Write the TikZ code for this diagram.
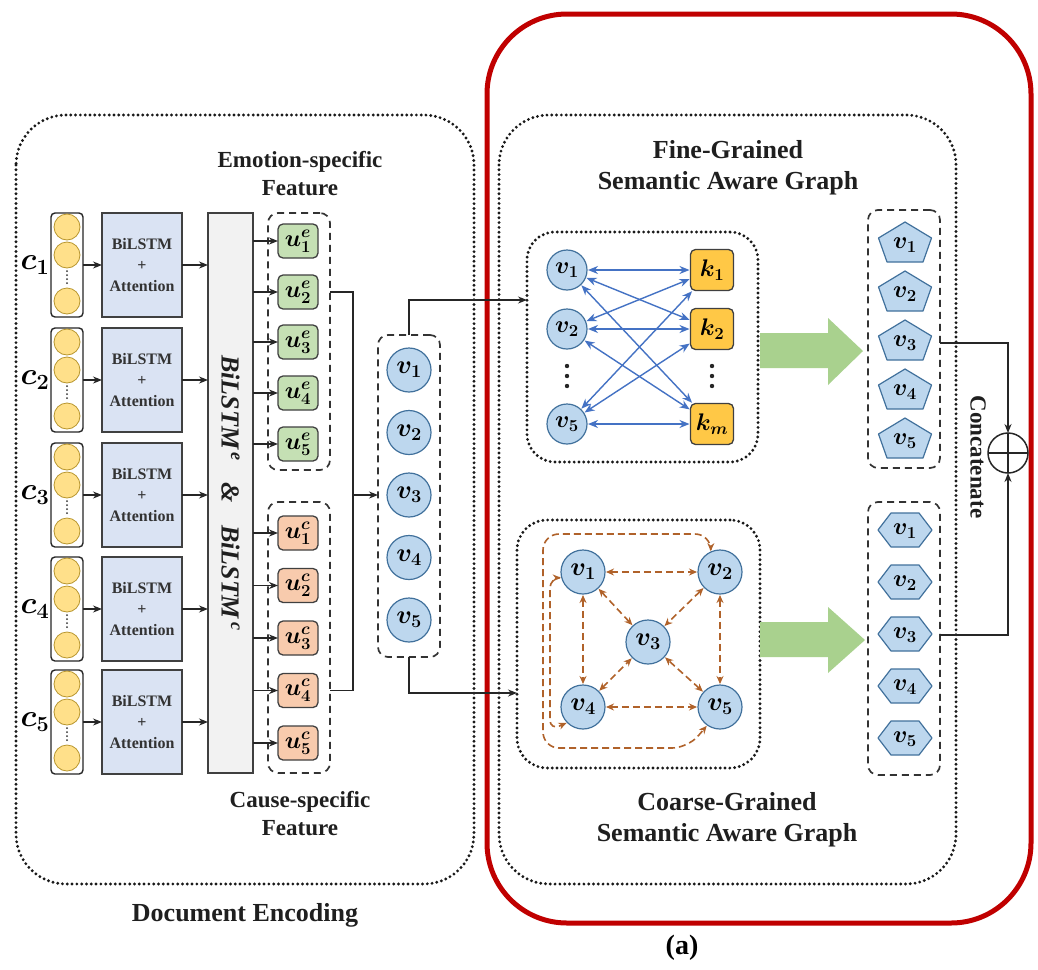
\RequirePackage{fix-cm}
\documentclass[tikz,border=0pt]{standalone}
\usepackage{amsmath}
\usepackage{bm}
\usepackage{fontspec}
\setmainfont{Liberation Serif}
\usetikzlibrary{arrows.meta,calc}
\definecolor{redbox}{HTML}{C00000}
\definecolor{lblue}{HTML}{DAE3F3}
\definecolor{vfill}{HTML}{BDD7EE}
\definecolor{vdraw}{HTML}{41719C}
\definecolor{yfill}{HTML}{FFE08A}
\definecolor{ydraw}{HTML}{B8962E}
\definecolor{gfill}{HTML}{C5E0B4}
\definecolor{ofill}{HTML}{F8CBAD}
\definecolor{kfill}{HTML}{FFC846}
\definecolor{bedgecol}{HTML}{4472C4}
\definecolor{cedgecol}{HTML}{B0622A}
\definecolor{garrow}{HTML}{A9D18E}
\definecolor{boxgray}{HTML}{F2F2F2}
\begin{document}
\begin{tikzpicture}[x=1pt,y=-1pt,
  every node/.style={inner sep=0pt,outer sep=0pt},
  dotbox/.style={draw=black!90,line width=3.2pt,dash pattern=on 0pt off 4.8pt,line cap=round},
  dashbox/.style={draw=black!80,line width=1.7pt,dash pattern=on 7pt off 5pt,rounded corners=10pt},
  arr/.style={draw=black!85,line width=1.3pt,-{Stealth[length=9pt,width=7pt]}},
  plain/.style={draw=black!85,line width=1.3pt},
  ccol/.style={draw=black!85,line width=1.4pt,rounded corners=4pt,fill=white,minimum width=32pt,minimum height=104pt},
  ycirc/.style={circle,draw=ydraw,fill=yfill,line width=0.8pt,minimum size=26pt},
  dotline/.style={draw=black!80,line width=2pt,dash pattern=on 0pt off 4pt,line cap=round,shorten <=3pt,shorten >=3pt},
  clab/.style={font=\fontsize{31}{34}\selectfont},
  lstm/.style={draw=black!75,fill=lblue,line width=1.3pt,minimum width=80pt,minimum height=104pt,align=center,text=black!80,font=\bfseries\fontsize{16}{21}\selectfont},
  bigbox/.style={draw=black!75,fill=boxgray,line width=1.3pt,minimum width=45pt,minimum height=560pt},
  unode/.style={draw=black!75,line width=1.3pt,rounded corners=5pt,minimum width=40pt,minimum height=34pt,font=\fontsize{24}{26}\selectfont},
  vnode/.style={circle,draw=vdraw,fill=vfill,line width=1.2pt,minimum size=44pt,font=\fontsize{26}{28}\selectfont},
  fvnode/.style={circle,draw=vdraw,fill=vfill,line width=1.2pt,minimum size=40pt,font=\fontsize{24}{26}\selectfont},
  knode/.style={draw=black!75,fill=kfill,line width=1.3pt,rounded corners=5pt,minimum width=43pt,minimum height=41pt,font=\fontsize{24}{26}\selectfont},
  polyshape/.style={draw=vdraw,fill=vfill,line width=1.2pt,line join=round},
  plab/.style={font=\fontsize{24}{26}\selectfont},
  bedge/.style={draw=bedgecol,line width=1.4pt,{Stealth[length=10pt,width=8pt]}-{Stealth[length=10pt,width=8pt]},shorten <=1pt,shorten >=1pt},
  cedge/.style={draw=cedgecol,line width=1.6pt,dash pattern=on 7pt off 4pt,{Stealth[length=8pt,width=7pt]}-{Stealth[length=8pt,width=7pt]},shorten <=1pt,shorten >=1pt},
  headbig/.style={font=\bfseries\fontsize{26}{31}\selectfont,align=center,text=black!88},
  headsm/.style={font=\bfseries\fontsize{23}{28}\selectfont,align=center,text=black!88}
]
\useasboundingbox (0,0) rectangle (1038,969);
\fill[white] (0,0) rectangle (1038,969);

% ---------- outer frames ----------
\draw[dotbox,rounded corners=50pt] (16,115) rectangle (474,884);
\draw[dotbox,rounded corners=50pt] (499,115) rectangle (956,884);
\draw[draw=redbox,line width=5pt,rounded corners=80pt] (487,14) rectangle (1031,923);

% ---------- headings ----------
\node[headsm] (emo) at (300,174) {Emotion-specific\\Feature};
\node[headsm] (cause) at (300,814) {Cause-specific\\Feature};
\node[headbig] (fine) at (728,168) {Fine-Grained\\Semantic Aware Graph};
\node[headbig] (coarse) at (727,820) {Coarse-Grained\\Semantic Aware Graph};
\node[headbig] (doc) at (245,915) {Document Encoding};
\node[font=\bfseries\fontsize{28}{32}\selectfont] (lbla) at (682,948) {(a)};

% ---------- big BiLSTM box ----------
\node[bigbox] (big) at (230.5,493) {};
\node[rotate=-90,font=\bfseries\itshape\fontsize{26}{30}\selectfont,text=black!88] (bigtxt) at (big.center) {BiLSTM\textsuperscript{\,e}\hspace{22pt}\&\hspace{22pt}BiLSTM\textsuperscript{\,c}};

% ---------- clause columns ----------
\foreach \i/\y in {1/265,2/380,3/495,4/609,5/722} {
  \node[ccol] (col\i) at (67,\y) {};
  \node[ycirc] (ca\i) at (67,\y-38) {};
  \node[ycirc] (cb\i) at (67,\y-10) {};
  \node[ycirc] (cc\i) at (67,\y+36) {};
  \draw[dotline] (cb\i.south) -- (cc\i.north);
  \node[clab] (cl\i) at (35,\y) {$\bm{c_{\i}}$};
  \node[lstm] (bl\i) at (142,\y) {BiLSTM\\+\\Attention};
  \draw[arr] (col\i) -- (bl\i);
  \draw[arr] (bl\i) -- (bl\i -| big.west);
}

% ---------- u nodes ----------
\node[dashbox,minimum width=62pt,minimum height=257pt] (uebox) at (299,341.5) {};
\node[dashbox,minimum width=62pt,minimum height=271pt] (ucbox) at (299,637.5) {};
\foreach \i/\y in {1/241,2/292,3/342,4/393,5/444} {
  \node[unode,fill=gfill] (ue\i) at (298,\y) {$\bm{u^{e}_{\i}}$};
  \draw[arr] (big.east |- ue\i) -- (ue\i.west);
}
\foreach \i/\y in {1/533,2/585.5,3/638,4/690.5,5/743} {
  \node[unode,fill=ofill] (uc\i) at (298,\y) {$\bm{u^{c}_{\i}}$};
  \draw[arr] (big.east |- uc\i) -- (uc\i.west);
}

% ---------- v column ----------
\node[dashbox,minimum width=62pt,minimum height=322pt] (vbox) at (409,496) {};
\foreach \i/\y in {1/370,2/432.5,3/495,4/557.5,5/620} {
  \node[vnode] (v\i) at (409,\y) {$\bm{v_{\i}}$};
}
\coordinate (jn) at (353,495);
\draw[plain] (uebox.east |- ue2) -| (jn);
\draw[plain] (ucbox.east |- uc4) -| (jn);
\draw[arr] (jn) -- (vbox.west |- jn);

% ---------- fine-grained graph ----------
\node[dotbox,rounded corners=28pt,minimum width=231pt,minimum height=230pt] (fbox) at (642.5,347) {};
\coordinate (fin) at (fbox.west |- 0,300);
\draw[arr] (vbox.north) |- (fin);
\node[fvnode] (fv1) at (567,270) {$\bm{v_{1}}$};
\node[fvnode] (fv2) at (567,329) {$\bm{v_{2}}$};
\node[fvnode] (fv5) at (567,424) {$\bm{v_{5}}$};
\node[knode] (k1) at (712,270) {$\bm{k_{1}}$};
\node[knode] (k2) at (712,329) {$\bm{k_{2}}$};
\node[knode] (km) at (712,424) {$\bm{k_{m}}$};
\foreach \yy in {366,376,386} {
  \fill[black!85] (567,\yy) circle (2.2pt);
  \fill[black!85] (712,\yy) circle (2.2pt);
}
\foreach \a in {fv1,fv2,fv5} {
  \foreach \b in {k1,k2,km} {
    \draw[bedge] (\a) -- (\b);
  }
}

% ---------- coarse-grained graph ----------
\node[dotbox,rounded corners=30pt,minimum width=243pt,minimum height=248pt] (gbox) at (638.5,644) {};
\coordinate (cin) at (gbox.west |- 0,693);
\draw[arr] (vbox.south) |- (cin);
\node[vnode] (g1) at (583,572) {$\bm{v_{1}}$};
\node[vnode] (g2) at (720,572) {$\bm{v_{2}}$};
\node[vnode] (g3) at (648,642) {$\bm{v_{3}}$};
\node[vnode] (g4) at (583,707) {$\bm{v_{4}}$};
\node[vnode] (g5) at (720,707) {$\bm{v_{5}}$};
\draw[cedge] (g1) -- (g2);
\draw[cedge] (g4) -- (g5);
\draw[cedge] (g1) -- (g4);
\draw[cedge] (g2) -- (g5);
\draw[cedge] (g1) -- (g3);
\draw[cedge] (g2) -- (g3);
\draw[cedge] (g4) -- (g3);
\draw[cedge] (g5) -- (g3);
\draw[cedge,rounded corners=16pt] (g2.115) -- (711,534) -- (543,534) -- (543,748) -- (688,748) -- (g5.235);
\draw[cedge,rounded corners=10pt] (g1.195) -- (550,578) -- (550,730) -- (g4.225);

% ---------- green arrows ----------
\fill[garrow] (760,333) -- (828,333) -- (828,318) -- (863,351) -- (828,385) -- (828,368) -- (760,368) -- cycle;
\fill[garrow] (760,622) -- (828,622) -- (828,607) -- (865,640) -- (828,673) -- (828,657) -- (760,657) -- cycle;

% ---------- pentagons ----------
\node[dashbox,minimum width=72pt,minimum height=258pt] (pbox) at (904,339) {};
\foreach \i/\y in {1/242,2/291,3/340,4/389,5/438} {
  \draw[polyshape] (905,\y-20) -- ++(26.5,16) -- ++(-8.5,24) -- ++(-36,0) -- ++(-8.5,-24) -- cycle;
  \node[plab] (pv\i) at (905,\y+3) {$\bm{v_{\i}}$};
}

% ---------- hexagons ----------
\node[dashbox,minimum width=72pt,minimum height=273pt] (hbox) at (904,638.5) {};
\foreach \i/\y in {1/530,2/582,3/634,4/686,5/738} {
  \draw[polyshape] (878,\y) -- (891,\y-17) -- (919,\y-17) -- (932,\y) -- (919,\y+17) -- (891,\y+17) -- cycle;
  \node[plab] (hv\i) at (905,\y+1) {$\bm{v_{\i}}$};
}

% ---------- concatenation ----------
\node[circle,draw=black!85,line width=1.5pt,minimum size=40pt] (plus) at (1008,453) {};
\draw[plain] (plus.north) -- (plus.south);
\draw[plain] (plus.west) -- (plus.east);
\draw[arr] (pbox.east |- pv3) -| (plus.north);
\draw[arr] (hbox.east |- hv3) -| (plus.south);
\node[rotate=-90,font=\bfseries\fontsize{23}{26}\selectfont,text=black!88] (concat) at (978,457) {Concatenate};
\end{tikzpicture}
\end{document}
